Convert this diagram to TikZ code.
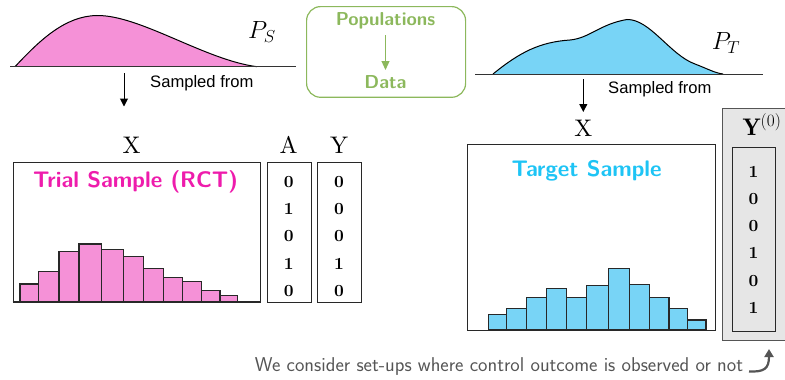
\documentclass[tikz,border=0pt]{standalone}
\usepackage{fontspec}
\newfontfamily\arialfont{Liberation Sans}
\newfontfamily\cmten{lmroman10-regular}[Extension=.otf]
\newfontfamily\cmtenbold{lmroman10-bold}[Extension=.otf]
\usetikzlibrary{arrows.meta}
\definecolor{pinkfill}{RGB}{245,145,215}
\definecolor{pinktext}{RGB}{238,28,172}
\definecolor{bluefill}{RGB}{120,212,246}
\definecolor{bluetext}{RGB}{30,196,245}
\definecolor{legendgreen}{RGB}{140,184,92}
\definecolor{edgegray}{RGB}{40,40,40}
\definecolor{boxgray}{RGB}{230,230,230}
\definecolor{notegray}{RGB}{85,85,85}
\newcommand{\fsz}[1]{\fontsize{#1}{#1}\selectfont}
\tikzset{
  baseline line/.style={draw=black!80, line width=1pt},
  samplearrow/.style={draw=black, line width=1pt, -{Triangle[length=8pt,width=8pt]}},
  samplelabel/.style={font=\arialfont\fsz{16.6}, inner sep=0pt},
  databox/.style={draw=edgegray, line width=1pt, anchor=north west, inner sep=0pt},
  histbar/.style={draw=edgegray, line width=1.5pt},
  varlabel/.style={font=\cmten\fsz{24}, inner sep=0pt},
  digit/.style={font=\cmtenbold\fsz{17}, inner sep=0pt},
  sampletitle/.style={font=\sffamily\bfseries\fsz{22.5}, inner sep=0pt},
  legendtext/.style={font=\sffamily\bfseries\fsz{18.7}, text=legendgreen, inner sep=0pt},
}
\begin{document}
\begin{tikzpicture}[x=1pt,y=-1pt]
\useasboundingbox (0,0) rectangle (785,380);
% ---------- left population
\fill[pinkfill] (15,66.7) .. controls (40,40) and (65,16) .. (97,15.5)
  .. controls (140,15) and (205,60) .. (257,66.7) -- cycle;
\draw[line width=1pt] (15,66.7) .. controls (40,40) and (65,16) .. (97,15.5)
  .. controls (140,15) and (205,60) .. (257,66.7);
\draw[baseline line] (10,66.7) -- (296,66.7);
\node[font=\fsz{25}, inner sep=0pt] (PS) at (262,32) {$P_S$};
\coordinate (sl0) at (124,73);
\coordinate (sl1) at (124,106.5);
\draw[samplearrow] (sl0) -- (sl1);
\node[samplelabel, anchor=west] (sfl) at (150,83.5) {Sampled from};
% ---------- legend box
\node[draw=legendgreen, line width=1.2pt, rounded corners=14pt, anchor=north west,
      minimum width=159pt, minimum height=90.7pt, inner sep=0pt] (legend) at (306,6) {};
\node[legendtext] (pop) at (385.5,20.5) {Populations};
\node[legendtext] (dat) at (385.5,82) {Data};
\draw[legendgreen, line width=1.2pt, -{Triangle[length=9pt,width=8pt]}] (385.5,35) -- (385.5,70);
% ---------- right population
\fill[bluefill] (493,74) .. controls (520,52) and (540,42) .. (570,40)
  .. controls (590,38) and (600,24) .. (627,19.5)
  .. controls (650,19) and (670,55) .. (695,64)
  .. controls (708,69) and (715,73) .. (723,74) -- cycle;
\draw[line width=1pt] (493,74) .. controls (520,52) and (540,42) .. (570,40)
  .. controls (590,38) and (600,24) .. (627,19.5)
  .. controls (650,19) and (670,55) .. (695,64)
  .. controls (708,69) and (715,73) .. (723,74);
\draw[baseline line] (475,74) -- (763,74);
\node[font=\fsz{25}, inner sep=0pt] (PT) at (726,43) {$P_T$};
\coordinate (sr0) at (583.3,79);
\coordinate (sr1) at (583.3,112);
\draw[samplearrow] (sr0) -- (sr1);
\node[samplelabel, anchor=west] (sfr) at (608,89.5) {Sampled from};
% ---------- trial sample
\node[varlabel] (Xl) at (131.7,145) {X};
\node[varlabel] (Al) at (288.5,145) {A};
\node[varlabel] (Yl) at (339.2,145) {Y};
\node[databox, minimum width=247.3pt, minimum height=140pt] (xbox) at (12.7,161.7) {};
\node[databox, minimum width=44pt, minimum height=140pt] (abox) at (266.7,161.7) {};
\node[databox, minimum width=44.3pt, minimum height=140pt] (ybox) at (316.7,161.7) {};
\node[sampletitle, text=pinktext] (trial) at (135.5,182) {Trial Sample (RCT)};
\foreach \a/\b/\t in {20/38.3/284, 38.3/59/271.7, 59/79/251.7, 79/101.7/244,
  101.7/123.3/249.3, 123.3/143.3/256.7, 143.3/163.3/268.3, 163.3/182.3/277.3,
  182.3/201.3/281.7, 201.3/220/290.7, 220/237.7/295.7}
  \draw[histbar, fill=pinkfill] (\a,301.7) rectangle (\b,\t);
\draw[edgegray, line width=1pt] (12.7,301.7) -- (260,301.7);
\foreach \i/\y/\av/\yv in {1/181.7/0/0, 2/209/1/0, 3/236.2/0/0, 4/263.5/1/1, 5/290.7/0/0} {
  \node[digit] (a\i) at (288.7,\y) {\av};
  \node[digit] (y\i) at (338.9,\y) {\yv};
}
% ---------- target sample
\node[varlabel] (Xr) at (583.3,128.3) {X};
\node[databox, minimum width=248pt, minimum height=185.7pt] (tbox) at (467.3,144.3) {};
\node[sampletitle, text=bluetext] (target) at (586.7,171) {Target Sample};
\foreach \a/\b/\t in {488.3/506.7/314.3, 506.7/526.7/308.3, 526.7/546.7/297.3,
  546.7/566.7/288.3, 566.7/586.7/297.3, 586.7/608.3/285.3, 608.3/629.3/268.3,
  629.3/649.3/284.3, 649.3/669/297.3, 669/687.7/308.3, 687.7/706/320}
  \draw[histbar, fill=bluefill] (\a,330) rectangle (\b,\t);
\draw[edgegray, line width=1pt] (467.3,330) -- (715.3,330);
% ---------- control outcome column
\node[databox, fill=boxgray, draw=notegray, minimum width=70pt, minimum height=231.7pt] (gbox) at (721.5,108.3) {};
\node[font=\fsz{24}, inner sep=0pt] (Y0) at (762,125) {$\mathbf{Y}^{(0)}$};
\node[databox, draw=edgegray, minimum width=43.6pt, minimum height=184pt] (ibox) at (731.8,146.7) {};
\foreach \i/\y/\v in {1/171.7/1, 2/199/0, 3/226/0, 4/253.3/1, 5/280.7/0, 6/307.7/1}
  \node[digit] (c\i) at (753.5,\y) {\v};
% ---------- note
\node[font=\sffamily\fsz{20}, text=notegray, inner sep=0pt] (note) at (499,367) {We consider set-ups where control outcome is observed or not};
\coordinate (cr0) at (749,371.5);
\coordinate (cr1) at (769,349);
\draw[notegray, line width=2.2pt, -{Triangle[length=8pt,width=9pt]}] (cr0) .. controls (764,372) and (769,369) .. (cr1);
\end{tikzpicture}
\end{document}
